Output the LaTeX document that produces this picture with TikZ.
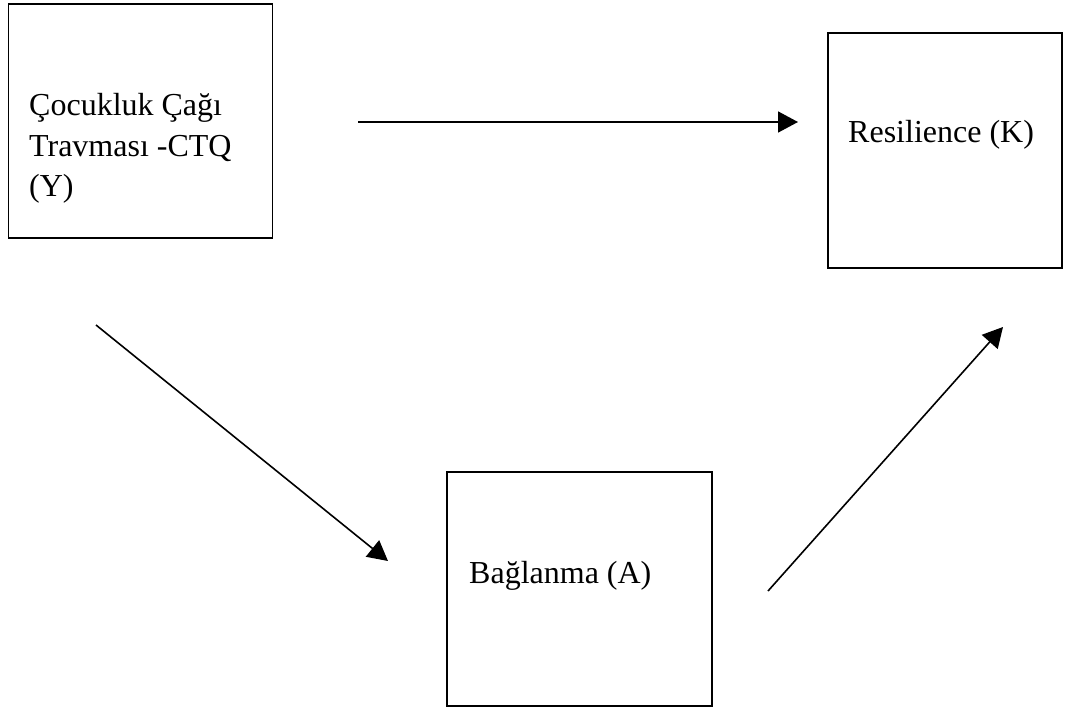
\documentclass[tikz,border=0pt]{standalone}
\usepackage{fontspec}
\setmainfont{Liberation Serif}
\usetikzlibrary{arrows.meta}
\begin{document}
\begin{tikzpicture}[x=1pt,y=-1pt,
  box/.style={draw=black, line width=1.6pt, minimum width=#1, inner sep=0pt, rectangle},
  lbl/.style={anchor=base west, inner sep=0pt, font=\fontsize{32}{40}\selectfont},
  arr/.style={line width=1.6pt, -{Triangle[length=20pt,width=21pt]}}]
\useasboundingbox (0,0) rectangle (1066,707);
% boxes
\node[box=264pt, minimum height=234pt] (Y) at (140.5,121) {};
\node[box=234pt, minimum height=235pt] (K) at (945,150.5) {};
\node[box=265pt, minimum height=234pt] (A) at (579.5,589) {};
% labels
\node[lbl] (y1) at (29,115) {Çocukluk Çağı};
\node[lbl] (y2) at (29,156) {Travması -CTQ};
\node[lbl] (y3) at (29,196) {(Y)};
\node[lbl] (k1) at (848,142) {Resilience (K)};
\node[lbl] (a1) at (469,583) {Bağlanma (A)};
% arrow ends
\coordinate (s1) at (358,122);
\coordinate (e1) at (798,122);
\coordinate (s2) at (96,325);
\coordinate (e2) at (388,561);
\coordinate (s3) at (768,591);
\coordinate (e3) at (1003,327);
\draw[arr] (s1) -- (e1);
\draw[arr] (s2) -- (e2);
\draw[arr] (s3) -- (e3);
\end{tikzpicture}
\end{document}
